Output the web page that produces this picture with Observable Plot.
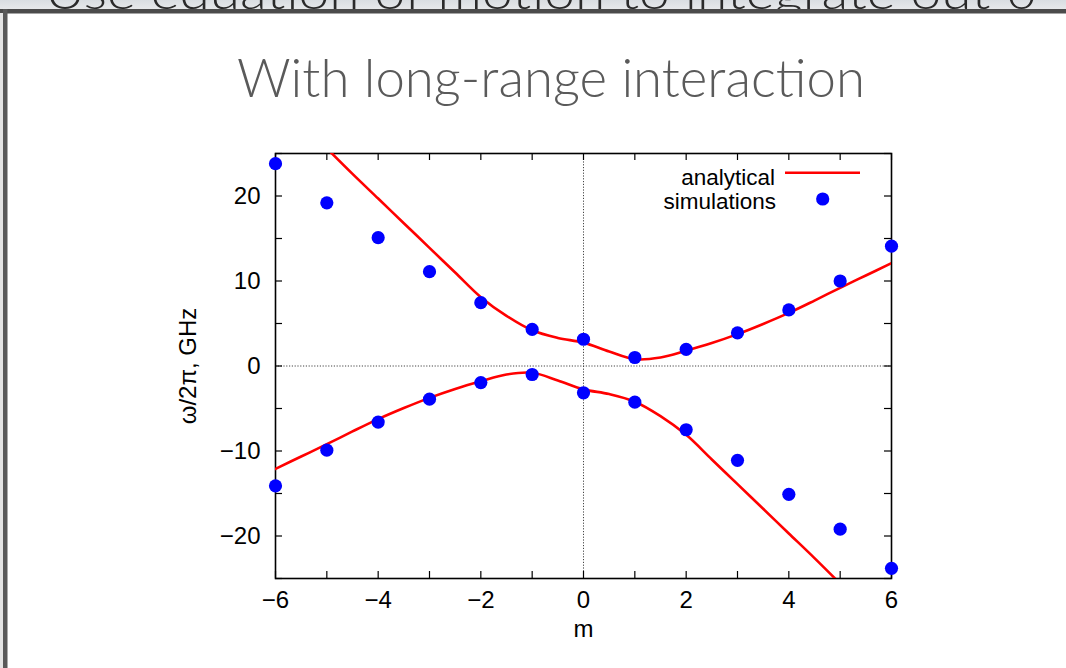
<!DOCTYPE html>
<html>
<head>
<meta charset="utf-8">
<script src="https://cdn.jsdelivr.net/npm/d3@7"></script>
<script src="https://cdn.jsdelivr.net/npm/@observablehq/plot@0.6"></script>
<style>
  html, body { margin: 0; padding: 0; width: 1066px; height: 668px; overflow: hidden; background: #fff; }
  #deco { position: absolute; left: 0; top: 0; }
  #chart { position: absolute; left: 0; top: 120px; }
  #chart svg { overflow: visible; }
</style>
</head>
<body>
<svg id="deco" width="1066" height="668" xmlns="http://www.w3.org/2000/svg">
  <defs>
    <linearGradient id="strip" x1="0" y1="0" x2="0" y2="1">
      <stop offset="0" stop-color="#d9dde1"/>
      <stop offset="1" stop-color="#e6e8ea"/>
    </linearGradient>
    <clipPath id="stripClip"><rect x="0" y="0" width="1066" height="9"/></clipPath>
  </defs>
  <rect x="0" y="0" width="1066" height="9" fill="url(#strip)"/>
  <g clip-path="url(#stripClip)">
    <text id="prevText" x="45" y="8.5" font-family="Lato, 'DejaVu Sans', sans-serif" font-weight="300" font-size="46" fill="#2a2a2a" textLength="1010" lengthAdjust="spacingAndGlyphs"></text>
  </g>
  <rect x="0" y="9" width="1066" height="4.5" fill="#4b4b4b"/>
  <rect x="0" y="13" width="3" height="655" fill="#e4e4e4"/>
  <rect x="3" y="9" width="4.5" height="659" fill="#595959"/>
  <text id="titleText" x="237" y="97" font-family="Lato, 'Open Sans', sans-serif" font-weight="300" font-size="53" fill="#5a5a5a" textLength="628" lengthAdjust="spacingAndGlyphs"></text>
  <g id="legend" font-family="'Liberation Sans', Arial, Helvetica, sans-serif" font-size="22.5" fill="#000"></g>
</svg>
<div id="chart"></div>
<script>
// ---------- data ----------
const slideHeading = "Use equation of motion to integrate out θ′";
const chartTitle = "With long-range interaction";
const xLabel = "m";
const yLabel = "ω/2π, GHz";
const legendLabels = ["analytical", "simulations"];

// simulations (blue dots)
const mSim = [-6, -5, -4, -3, -2, -1, 0, 1, 2, 3, 4, 5, 6];
const simUpper = [23.8, 19.2, 15.1, 11.1, 7.45, 4.3, 3.15, 1.0, 1.95, 3.9, 6.6, 10.0, 14.1];
const simLower = [-14.1, -9.9, -6.6, -3.9, -1.95, -1.0, -3.15, -4.25, -7.5, -11.1, -15.1, -19.2, -23.8];

// analytical (red curves)
const mCurveUpper = [-5, -4.5, -4, -3.5, -3, -2.5, -2, -1.5, -1, -0.5, 0, 0.5, 1, 1.5, 2, 2.5, 3, 3.5, 4, 4.5, 5, 5.5, 6];
const curveUpper = [25.6, 22.6, 19.7, 16.8, 13.9, 11.0, 8.1, 5.9, 4.2, 3.3, 2.75, 1.7, 0.8, 1.0, 1.8, 2.7, 3.75, 4.95, 6.25, 7.7, 9.2, 10.65, 12.1];
const mCurveLower = [-6, -5.5, -5, -4.5, -4, -3.5, -3, -2.5, -2, -1.5, -1, -0.5, 0, 0.5, 1, 1.5, 2, 2.5, 3, 3.5, 4, 4.5, 5];
const curveLower = [-12.1, -10.65, -9.2, -7.7, -6.25, -4.95, -3.75, -2.7, -1.8, -1.0, -0.8, -1.7, -2.75, -3.3, -4.2, -5.9, -8.1, -11.0, -13.9, -16.8, -19.7, -22.6, -25.6];

// ticks
const xTicks = [-6, -5, -4, -3, -2, -1, 0, 1, 2, 3, 4, 5, 6];
const xTickValues = [-6, -4, -2, 0, 2, 4, 6];
const xTickLabels = ["−6", "−4", "−2", "0", "2", "4", "6"];
const yTicks = [-25, -20, -15, -10, -5, 0, 5, 10, 15, 20, 25];
const yTickValues = [-20, -10, 0, 10, 20];
const yTickLabels = ["−20", "−10", "0", "10", "20"];

// ---------- tables ----------
const curveTable = [
  ...mCurveUpper.map((m, i) => ({m, w: curveUpper[i], branch: "upper"})),
  ...mCurveLower.map((m, i) => ({m, w: curveLower[i], branch: "lower"}))
];
const simTable = [
  ...mSim.map((m, i) => ({m, w: simUpper[i]})),
  ...mSim.map((m, i) => ({m, w: simLower[i]}))
];

// ---------- decorations ----------
document.getElementById("prevText").textContent = slideHeading;
document.getElementById("titleText").textContent = chartTitle;

// ---------- chart ----------
const W = 1066, H = 548;
const mL = 275, mR = 175, mT = 33, mB = 90;
const innerW = W - mL - mR;
const innerH = H - mT - mB;
const tickLen = 7;
const font = "'Liberation Sans', Arial, Helvetica, sans-serif";

const chart = Plot.plot({
  width: W,
  height: H,
  marginLeft: mL,
  marginRight: mR,
  marginTop: mT,
  marginBottom: mB,
  style: {background: "transparent", fontFamily: font, fontSize: "24px", color: "#000", overflow: "visible"},
  x: {domain: [-6, 6]},
  y: {domain: [-25, 25]},
  marks: [
    Plot.ruleX([0], {stroke: "#444", strokeWidth: 1, strokeDasharray: "1.2,1.6"}),
    Plot.ruleY([0], {stroke: "#444", strokeWidth: 1, strokeDasharray: "1.2,1.6"}),
    Plot.frame({stroke: "#000", strokeWidth: 1.6}),
    Plot.tickX(xTicks, {x: d => d, insetTop: innerH - tickLen, stroke: "#000", strokeWidth: 1.2}),
    Plot.tickX(xTicks, {x: d => d, insetBottom: innerH - tickLen, stroke: "#000", strokeWidth: 1.2}),
    Plot.tickY(yTicks, {y: d => d, insetRight: innerW - tickLen, stroke: "#000", strokeWidth: 1.2}),
    Plot.tickY(yTicks, {y: d => d, insetLeft: innerW - tickLen, stroke: "#000", strokeWidth: 1.2}),
    Plot.axisX(xTickValues, {
      tickSize: 0, tickPadding: 12, fontSize: 24,
      tickFormat: d => xTickLabels[xTickValues.indexOf(d)],
      label: xLabel, labelAnchor: "center", labelOffset: 58, labelArrow: "none"
    }),
    Plot.axisY(yTickValues, {
      tickSize: 0, tickPadding: 15, fontSize: 24,
      tickFormat: d => yTickLabels[yTickValues.indexOf(d)],
      label: yLabel, labelAnchor: "center", labelOffset: 97, labelArrow: "none"
    }),
    Plot.line(curveTable, {x: "m", y: "w", z: "branch", stroke: "#ff0000", strokeWidth: 2.6, curve: "catmull-rom", clip: true}),
    Plot.dot(simTable, {x: "m", y: "w", r: 6.6, fill: "#0000ff"})
  ]
});
document.getElementById("chart").appendChild(chart);

// ---------- legend (inside the plot frame, top right) ----------
const ns = "http://www.w3.org/2000/svg";
const lg = document.getElementById("legend");
function el(tag, attrs, text) {
  const e = document.createElementNS(ns, tag);
  for (const k in attrs) e.setAttribute(k, attrs[k]);
  if (text) e.textContent = text;
  lg.appendChild(e);
  return e;
}
el("text", {x: 775, y: 184.5, "text-anchor": "end"}, legendLabels[0]);
el("text", {x: 776, y: 209, "text-anchor": "end"}, legendLabels[1]);
el("line", {x1: 785, y1: 172.7, x2: 860, y2: 172.7, stroke: "#ff0000", "stroke-width": 2.6});
el("circle", {cx: 822.7, cy: 199, r: 6.6, fill: "#0000ff"});
</script>
</body>
</html>
